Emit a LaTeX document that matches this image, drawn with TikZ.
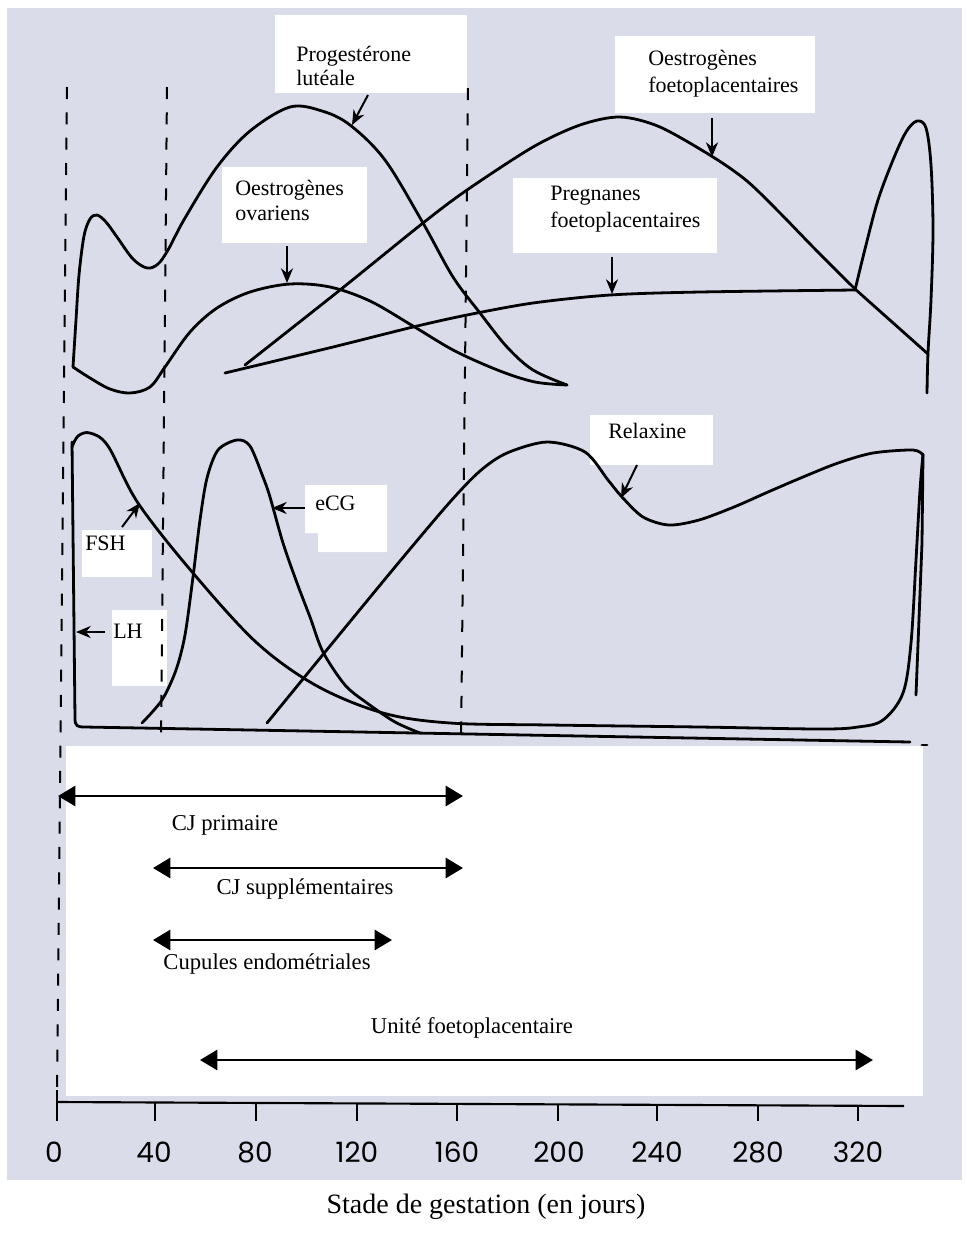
\documentclass[tikz,border=0pt]{standalone}
\usepackage{fontspec}
\setmainfont{Liberation Serif}
\newfontfamily\numfont{Poppins}
\usetikzlibrary{arrows.meta}
\definecolor{scanbg}{RGB}{219,220,234}
\begin{document}
\begin{tikzpicture}[x=0.75pt,y=-0.75pt,
  curve/.style={line width=2.1pt, line join=round, line cap=round},
  vdash/.style={line width=1.5pt, dash pattern=on 9pt off 10pt},
  ptr/.style={line width=1.5pt, -{Stealth[length=11pt,width=9pt,inset=3.5pt]}},
  span/.style={line width=2.2pt, {Triangle[length=13pt,width=15pt]}-{Triangle[length=13pt,width=15pt]}},
  lab/.style={font=\fontsize{16.5pt}{18pt}\selectfont, inner sep=0pt, anchor=base west},
  blab/.style={font=\fontsize{17pt}{19pt}\selectfont, inner sep=0pt},
  num/.style={font=\numfont\fontsize{21pt}{23pt}\selectfont, inner sep=0pt},
  axisline/.style={line width=1.6pt}
]
\useasboundingbox (0,0) rectangle (967,1233);
\fill[white] (0,0) rectangle (967,1233);
\fill[scanbg] (7,8) rectangle (962,1180);

% white label areas
\fill[white] (275,15) rectangle (467,93);
\fill[white] (222,167) rectangle (367,243);
\fill[white] (615,36) rectangle (815,113);
\fill[white] (513,178) rectangle (717,253);
\fill[white] (590,415) rectangle (713,465);
\fill[white] (305,485) -- (387,485) -- (387,552) -- (318,552) -- (318,533) -- (305,533) -- cycle;
\fill[white] (82,530) rectangle (152,577);
\fill[white] (112,610) rectangle (167,686);
\fill[white] (66,746) rectangle (923,1096);

% dashed guide lines
\coordinate (d1t) at (67,87);  \coordinate (d1b) at (57,1098);
\coordinate (d2t) at (167,87); \coordinate (d2b) at (161,744);
\coordinate (d3t) at (468,88); \coordinate (d3b) at (461,745);
\draw[vdash] (d1t) -- (d1b);
\draw[vdash] (d2t) -- (d2b);
\draw[vdash] (d3t) -- (d3b);

% ---------- upper graph ----------
% Progesterone luteale
\draw[curve] plot[smooth, tension=0.55] coordinates {(73,367) (76,320) (79,275) (84,236) (90,219) (97,215) (106,222) (117,237) (133,259) (147,268) (158,264) (168,250) (185,218) (217,167) (250,131) (290,107) (322,111) (350,125) (385,160) (423,223) (453,277) (480,313) (507,347) (533,370) (567,385)};
% Oestrogenes ovariens
\draw[curve] plot[smooth, tension=0.55] coordinates {(73,367) (90,378) (110,389) (130,393) (150,387) (165,367) (190,332) (217,308) (250,292) (290,284) (330,287) (370,301) (413,326) (455,351) (500,371) (535,382) (567,385)};
% Oestrogenes foetoplacentaires
\draw[curve] plot[smooth, tension=0.5] coordinates {(245,365) (340,290) (423,223) (467,190) (533,147) (580,125) (620,117) (660,127) (713,157) (747,181) (780,213) (813,247) (855,289)} -- (928,354);
% Pregnanes foetoplacentaires
\draw[curve] plot[smooth, tension=0.5] coordinates {(225,373) (333,347) (413,327) (467,315) (533,303) (610,295) (700,292) (855,290)};
% terminal peak
\draw[curve] plot[smooth, tension=0.55] coordinates {(855,290) (866,245) (878,200) (893,160) (906,132) (917,121) (926,128) (931,165) (933,230) (931,300) (928,353) (927,393)};

% ---------- lower graph ----------
% LH and baseline
\draw[curve] (72,442) -- (75,718) .. controls (75,726) and (77,727) .. (85,727) -- (910,742);
\draw[curve] (922,745) -- (927,745);
% FSH
\draw[curve] plot[smooth, tension=0.55] coordinates {(72,447) (78,436) (90,433) (108,446) (138,503) (193,573) (257,643) (317,686) (383,713) (450,723) (550,725) (700,727) (820,729) (858,727) (883,720) (903,693) (911,643) (916,560) (920,490) (923,454)};
% eCG
\draw[curve] plot[smooth, tension=0.5] coordinates {(142,723) (162,700) (176,670) (185,635) (193,577) (200,520) (207,478) (218,450) (237,440) (250,446) (263,477) (270,497) (283,543) (297,583) (310,617) (323,652) (345,685) (367,703) (395,722) (420,733)};
% Relaxine
\draw[curve] plot[smooth, tension=0.5] coordinates {(267,723) (330,646) (400,561) (450,502) (480,471) (507,453) (547,442) (585,452) (608,480) (622,497) (643,517) (669,525) (699,520) (734,507) (768,492) (803,477) (838,463) (873,453) (913,450) (923,455)} -- (922,543) -- (916,695);

% pointer arrows
\coordinate (progT) at (368,95);  \coordinate (progH) at (352,125);
\coordinate (oovT) at (287,246);  \coordinate (oovH) at (287,283);
\coordinate (ofpT) at (712,118);  \coordinate (ofpH) at (712,157);
\coordinate (pregT) at (612,257); \coordinate (pregH) at (612,294);
\coordinate (relT) at (637,465);  \coordinate (relH) at (621,498);
\coordinate (ecgT) at (305,508);  \coordinate (ecgH) at (272,508);
\coordinate (fshT) at (122,527);  \coordinate (fshH) at (140,503);
\coordinate (lhT) at (105,632);   \coordinate (lhH) at (76,632);
\draw[ptr] (progT) -- (progH);
\draw[ptr] (oovT) -- (oovH);
\draw[ptr] (ofpT) -- (ofpH);
\draw[ptr] (pregT) -- (pregH);
\draw[ptr] (relT) -- (relH);
\draw[ptr] (ecgT) -- (ecgH);
\draw[ptr] (fshT) -- (fshH);
\draw[ptr] (lhT) -- (lhH);

% labels upper
\node[lab] (prog1) at (296,61) {Progestérone};
\node[lab] (prog2) at (296,85) {lutéale};
\node[lab] (oov1) at (235,195) {Oestrogènes};
\node[lab] (oov2) at (235,220) {ovariens};
\node[lab] (ofp1) at (648,65) {Oestrogènes};
\node[lab] (ofp2) at (648,92) {foetoplacentaires};
\node[lab] (preg1) at (550,200) {Pregnanes};
\node[lab] (preg2) at (550,227) {foetoplacentaires};
\node[lab] (relax) at (608,438) {Relaxine};
\node[lab] (ecg) at (315,510) {eCG};
\node[lab] (fsh) at (85,550) {FSH};
\node[lab] (lh) at (113,638) {LH};

% span arrows
\coordinate (cjpL) at (58,796);  \coordinate (cjpR) at (463,796);
\coordinate (cjsL) at (153,868); \coordinate (cjsR) at (463,868);
\coordinate (cupL) at (153,940); \coordinate (cupR) at (392,940);
\coordinate (ufpL) at (200,1060); \coordinate (ufpR) at (873,1060);
\draw[span] (cjpL) -- (cjpR);
\draw[span] (cjsL) -- (cjsR);
\draw[span] (cupL) -- (cupR);
\draw[span] (ufpL) -- (ufpR);
\node[blab] (cjp) at (225,825) {CJ primaire};
\node[blab] (cjs) at (305,889) {CJ supplémentaires};
\node[blab] (cup) at (267,964) {Cupules endométriales};
\node[blab] (ufp) at (472,1028) {Unité foetoplacentaire};

% time axis
\draw[axisline] (57,1102) -- (904,1106);
\draw[axisline] (57,1090) -- (57,1121);
\foreach \x in {155,256,357,457,558,657,758,858}
  \draw[axisline] (\x,{1102+(\x-57)*0.0047}) -- (\x,1121);
\foreach \x/\l in {54/0,154/40,255/80,357/120,457/160,559/200,657/240,758/280,858/320}
  \node[num] (n\l) at (\x,1152) {\l};

\node[font=\fontsize{21pt}{23pt}\selectfont, inner sep=0pt] (stade) at (486,1207) {Stade de gestation (en jours)};
\end{tikzpicture}
\end{document}
